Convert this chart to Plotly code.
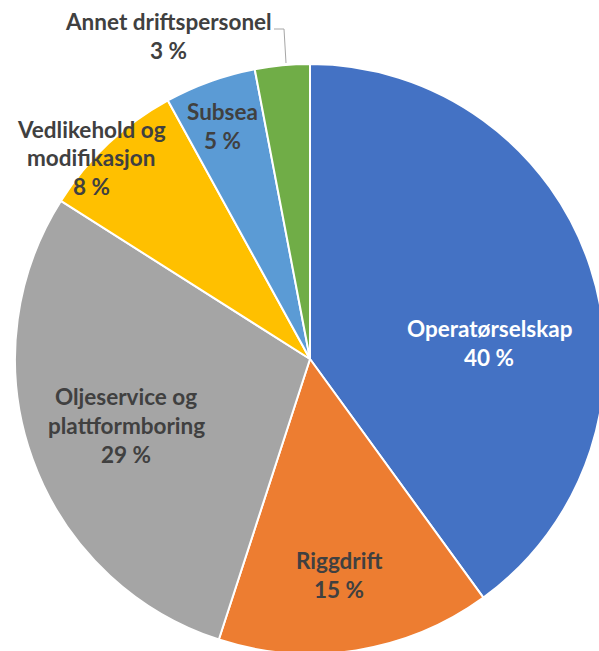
import plotly.graph_objects as go

# data
kategorier = ["Operatørselskap", "Riggdrift", "Oljeservice og plattformboring",
              "Vedlikehold og modifikasjon", "Subsea", "Annet driftspersonel"]
andel = [40, 15, 29, 8, 5, 3]
# how each label is broken into lines on the chart
etikett_linjer = [["Operatørselskap"], ["Riggdrift"], ["Oljeservice og", "plattformboring"],
                  ["Vedlikehold og", "modifikasjon"], ["Subsea"], ["Annet driftspersonel"]]

farger = ["#4472C4", "#ED7D31", "#A5A5A5", "#FFC000", "#5B9BD5", "#70AD47"]
tekstfarger = ["white", "#404040", "#404040", "#404040", "#404040", "#404040"]

# label centres in pixels (layout only)
etikett_pos = [(489, 343), (339, 575), (126, 425), (91, 158), (222, 126), (168, 36)]

# the pie is a bit larger than the window, as in the original
W, H = 605, 660
L, T = 15, 64
R = 590  # plot area size

fig = go.Figure()
fig.add_trace(go.Pie(
    labels=kategorier,
    values=andel,
    sort=False,
    direction="clockwise",
    rotation=0,
    textinfo="none",
    hoverinfo="label+percent",
    marker=dict(colors=farger, line=dict(color="white", width=2)),
    showlegend=False,
))

def px2paper(x, y):
    return (x - L) / R, 1 - (y - T) / R

linjeavstand = 29
annotations = []
for linjer, verdi, (cx, cy), farge in zip(etikett_linjer, andel, etikett_pos, tekstfarger):
    alle = linjer + [f"{verdi} %"]
    n = len(alle)
    for i, tekst in enumerate(alle):
        y = cy + (i - (n - 1) / 2) * linjeavstand
        px, py = px2paper(cx, y)
        annotations.append(dict(
            x=px, y=py, xref="paper", yref="paper", text=f"<b>{tekst}</b>",
            showarrow=False, xanchor="center", yanchor="middle",
            font=dict(family="Lato", size=22.5, color=farge)))

# leader line for the small slice
x0, y0 = px2paper(274, 29)
x1, y1 = px2paper(284, 29)
x2, y2 = px2paper(286, 63)
fig.add_shape(type="path", xref="paper", yref="paper",
              path=f"M {x0} {y0} L {x1} {y1} L {x2} {y2}",
              line=dict(color="#A6A6A6", width=1))

fig.update_layout(
    width=W, height=H,
    margin=dict(l=L, r=W - L - R, t=T, b=H - T - R),
    paper_bgcolor="white",
    annotations=annotations,
)

# no page margin / scrollbars so the chart sits at the window's corner
fig.write_html("out.html", config={"displayModeBar": False},
               post_script="document.body.style.margin='0';document.body.style.overflow='hidden';")
